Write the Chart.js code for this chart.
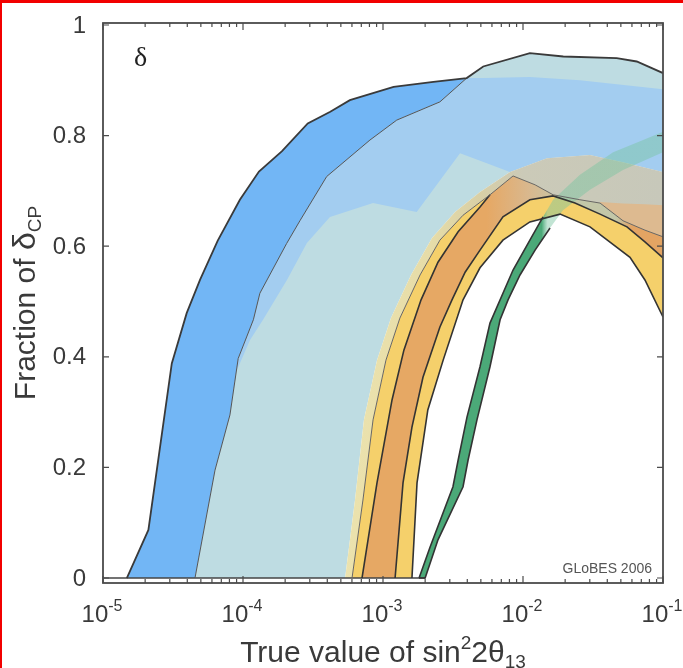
<!DOCTYPE html>
<html>
<head>
<meta charset="utf-8">
<title>Fraction of δCP</title>
<script src="https://cdn.jsdelivr.net/npm/chart.js@4.4.0/dist/chart.umd.min.js"></script>
<style>
    html, body { margin: 0; padding: 0; background: #fff; }
    #wrap { position: relative; width: 683px; height: 668px; overflow: hidden; }
    #myChart { position: absolute; left: 0; top: 0; }
    .edge { position: absolute; background: #f20000; }
</style>
</head>
<body>
<div id="wrap">
    <canvas id="myChart" width="683" height="668"></canvas>
    <div class="edge" style="left:0;top:0;width:683px;height:3px"></div>
    <div class="edge" style="left:0;top:0;width:2px;height:668px"></div>
</div>
<script>
'use strict';

// x = true value of sin^2 2theta13, y = fraction of deltaCP

// blue band, outer edge (continues as the top line)
var blueOuterX = [1.48e-5, 2.11e-5, 3.10e-5, 3.96e-5, 4.93e-5, 6.6e-5, 9.5e-5, 1.3e-4, 1.9e-4, 2.9e-4, 4.2e-4, 5.8e-4, 1.19e-3, 2.29e-3, 3.96e-3, 5.2e-3, 1.12e-2, 1.94e-2, 4.67e-2, 6.49e-2, 0.1];
var blueOuterY = [0, 0.087, 0.388, 0.479, 0.539, 0.61, 0.684, 0.735, 0.772, 0.822, 0.843, 0.864, 0.888, 0.897, 0.904, 0.925, 0.949, 0.943, 0.940, 0.934, 0.913];
// blue band, inner edge
var blueInnerX = [1.48e-5, 4.54e-5, 6.31e-5, 8.07e-5, 9.24e-5, 1.186e-4, 1.32e-4, 2.05e-4, 2.55e-4, 3.96e-4, 8.07e-4, 1.253e-3, 2.55e-3, 3.96e-3];
var blueInnerY = [0, 0, 0.195, 0.295, 0.397, 0.467, 0.515, 0.605, 0.646, 0.726, 0.792, 0.828, 0.861, 0.904];

// medium blue region
var midTopX = [9.05e-5, 9.24e-5, 1.186e-4, 1.32e-4, 2.05e-4, 2.55e-4, 3.96e-4, 8.07e-4, 1.253e-3, 2.55e-3, 3.96e-3, 5.2e-3, 1.12e-2, 2.55e-2, 0.1];
var midTopY = [0.376, 0.397, 0.467, 0.515, 0.605, 0.646, 0.726, 0.792, 0.828, 0.861, 0.904, 0.904, 0.906, 0.90, 0.884];
var midLowX = [9.05e-5, 1.12e-4, 1.39e-4, 2.06e-4, 2.86e-4, 4.18e-4, 8.49e-4, 1.74e-3, 3.55e-3, 5.51e-3, 8.07e-3, 1.48e-2, 3.01e-2, 5.18e-2, 0.1];
var midLowY = [0.376, 0.430, 0.467, 0.539, 0.606, 0.653, 0.678, 0.662, 0.768, 0.750, 0.734, 0.759, 0.765, 0.752, 0.734];

// pale band, outer edge
var paleX = [5.36e-4, 6.31e-4, 7.31e-4, 9.06e-4, 1.14e-3, 1.585e-3, 2.24e-3, 3.27e-3, 4.93e-3, 8.07e-3, 1.48e-2, 3.01e-2, 5.18e-2, 0.1];
var paleY = [0, 0.141, 0.286, 0.394, 0.470, 0.548, 0.615, 0.662, 0.698, 0.734, 0.759, 0.765, 0.752, 0.734];

// thin line (yellow band outer edge)
var thinX = [6.01e-4, 7.19e-4, 8.49e-4, 1.05e-3, 1.32e-3, 1.84e-3, 2.55e-3, 3.73e-3, 5.81e-3, 8.49e-3, 1.22e-2, 1.64e-2, 2.55e-2, 3.55e-2, 5.18e-2, 7.43e-2, 0.1];
var thinY = [0, 0.141, 0.286, 0.394, 0.470, 0.548, 0.611, 0.656, 0.693, 0.727, 0.711, 0.693, 0.684, 0.678, 0.646, 0.629, 0.617];

// orange band upper edge (lower part)
var ridgeX = [7.08e-4, 9.06e-4, 1.16e-3, 1.41e-3, 1.87e-3, 2.47e-3, 3.44e-3, 4.93e-3, 5.81e-3];
var ridgeY = [0, 0.172, 0.322, 0.412, 0.503, 0.571, 0.626, 0.671, 0.693];

// yellow band, upper and lower thick lines
var yellowUpX = [1.22e-3, 1.39e-3, 1.61e-3, 1.93e-3, 2.55e-3, 3.11e-3, 3.86e-3, 4.93e-3, 7.19e-3, 1.12e-2, 1.64e-2, 2.35e-2, 3.55e-2, 5.53e-2, 7.43e-2, 0.1];
var yellowUpY = [0, 0.172, 0.273, 0.363, 0.454, 0.503, 0.553, 0.593, 0.653, 0.684, 0.691, 0.678, 0.658, 0.635, 0.608, 0.579];
var yellowLoX = [1.61e-3, 1.75e-3, 2.09e-3, 2.69e-3, 3.73e-3, 4.93e-3, 7.19e-3, 1.12e-2, 1.84e-2, 3.01e-2, 5.81e-2, 7.43e-2, 0.1];
var yellowLoY = [0, 0.172, 0.304, 0.394, 0.503, 0.561, 0.611, 0.644, 0.658, 0.635, 0.580, 0.539, 0.472];

// tan strip at the right edge
var tanX = [3.55e-2, 5.18e-2, 7.43e-2, 0.1];
var tanY = [0.680, 0.677, 0.676, 0.674];

// green band
var greenUpX = [1.81e-3, 2.17e-3, 3.16e-3, 3.44e-3, 3.98e-3, 4.93e-3, 5.81e-3, 8.49e-3, 1.12e-2, 1.39e-2, 1.64e-2, 2.55e-2, 4.40e-2, 6.86e-2, 0.1];
var greenUpY = [0, 0.056, 0.165, 0.213, 0.291, 0.382, 0.461, 0.557, 0.611, 0.653, 0.684, 0.729, 0.770, 0.790, 0.807];
var greenLoX = [1.81e-3, 2.0e-3, 2.47e-3, 3.73e-3, 4.05e-3, 4.69e-3, 5.81e-3, 6.86e-3, 7.82e-3, 9.52e-3, 1.22e-2, 1.56e-2, 1.93e-2, 3.01e-2, 5.18e-2, 0.1];
var greenLoY = [0, 0, 0.069, 0.165, 0.213, 0.286, 0.382, 0.467, 0.503, 0.548, 0.593, 0.633, 0.665, 0.702, 0.738, 0.770];

var baseX = [1e-5, 2.0e-3];
var baseY = [0, 0];

var yTicks = [0, 0.2, 0.4, 0.6, 0.8, 1];
var yTickLabels = ['0', '0.2', '0.4', '0.6', '0.8', '1'];
var xDecades = [1e-5, 1e-4, 1e-3, 1e-2, 1e-1];
var xDecadeExps = ['-5', '-4', '-3', '-2', '-1'];

function pts(xs, ys) {
    var out = [];
    for (var i = 0; i < xs.length; i++) {
        out.push({x: xs[i], y: ys[i]});
    }
    return out;
}

function area(data, color, order) {
    return {data: data, fill: '+1', backgroundColor: color, borderColor: 'transparent', borderWidth: 0, pointRadius: 0, order: order};
}

function edge(data) {
    return {data: data, fill: false, borderColor: 'transparent', borderWidth: 0, pointRadius: 0, order: 20};
}

function stroke(data, color, width) {
    return {data: data, fill: false, borderColor: color, borderWidth: width, pointRadius: 0, order: 0};
}

// horizontal gradient, stops given in x values
function xGradient(stops) {
    return function (c) {
        var chart = c.chart;
        if (!chart.chartArea) return stops[0][1];
        var sx = chart.scales.x;
        var x0 = chart.chartArea.left, x1 = chart.chartArea.right;
        var g = chart.ctx.createLinearGradient(x0, 0, x1, 0);
        stops.forEach(function (s) {
            var p = (sx.getPixelForValue(s[0]) - x0) / (x1 - x0);
            g.addColorStop(Math.min(1, Math.max(0, p)), s[1]);
        });
        return g;
    };
}

var envelope = pts(blueInnerX.slice(1).concat(blueOuterX.slice(15)), blueInnerY.slice(1).concat(blueOuterY.slice(15)));
var cyanLow = pts([4.54e-5].concat(paleX), [0].concat(paleY));
var orangeTop = pts(ridgeX.concat(thinX.slice(9)), ridgeY.concat(thinY.slice(9)));

var paleColor = xGradient([[5e-4, '#ece3ae'], [2.2e-3, '#e6dca8'], [5e-3, '#d8cfa6'], [1e-2, '#cbcab8'], [0.1, '#c7c8ba']]);
var orangeColor = xGradient([[7e-4, '#e6a864'], [5.5e-3, '#e6a864'], [1.1e-2, '#d9b88e'], [2.0e-2, '#c3c7a8'], [4.6e-2, '#c3c7a8'], [6.0e-2, '#e3a463'], [0.1, '#e3a463']]);
var greenColor = xGradient([[1e-3, '#4ba978'], [1.36e-2, '#4ba978'], [1.5e-2, 'rgba(120,196,160,0.45)'], [0.1, 'rgba(120,196,160,0.45)']]);

var datasets = [
    area(envelope, '#bedce2', 10), edge(cyanLow),
    area(pts(midTopX, midTopY), '#a3cdf0', 9), edge(pts(midLowX, midLowY)),
    area(pts(blueOuterX.slice(0, 15), blueOuterY.slice(0, 15)), '#72b6f5', 8), edge(pts(blueInnerX, blueInnerY)),
    area(pts(paleX, paleY), paleColor, 7), edge(pts([5.36e-4].concat(thinX), [0].concat(thinY))),
    area(pts(tanX, tanY), '#ddba90', 6), edge(pts(thinX.slice(13), thinY.slice(13))),
    area(pts(thinX, thinY), '#f5d06b', 5), edge(pts([6.01e-4].concat(yellowLoX), [0].concat(yellowLoY))),
    area(orangeTop, orangeColor, 4), edge(pts([7.08e-4].concat(yellowUpX), [0].concat(yellowUpY))),
    area(pts(greenUpX, greenUpY), greenColor, 3), edge(pts(greenLoX, greenLoY)),

    stroke(pts(blueOuterX, blueOuterY), '#3a3a3a', 1.8),
    stroke(pts(blueInnerX.slice(1), blueInnerY.slice(1)), '#555', 1),
    stroke(pts(thinX, thinY), '#666', 1),
    stroke(pts(ridgeX, ridgeY), '#333', 1.6),
    stroke(pts(yellowUpX, yellowUpY), '#333', 1.6),
    stroke(pts(yellowLoX, yellowLoY), '#333', 1.6),
    stroke(pts(greenUpX.slice(0, 10), greenUpY.slice(0, 10)), '#333', 1.6),
    stroke(pts(greenLoX.slice(0, 12), greenLoY.slice(0, 12)), '#333', 1.6),
    stroke(pts(baseX, baseY), '#444', 1.5)
];

var sansFont = '"Liberation Sans", Arial, sans-serif';

// text runs: [text, size, baseline shift]
function drawRuns(c, runs, cx, y) {
    var total = 0;
    runs.forEach(function (r) {
        c.font = r[1] + 'px ' + sansFont;
        r.w = c.measureText(r[0]).width;
        total += r.w;
    });
    var x = cx - total / 2;
    c.textAlign = 'left';
    c.textBaseline = 'alphabetic';
    runs.forEach(function (r) {
        c.font = r[1] + 'px ' + sansFont;
        c.fillText(r[0], x, y + r[2]);
        x += r.w;
    });
}

var axisBox = {
    id: 'axisBox',
    afterDraw: function (chart) {
        var c = chart.ctx, a = chart.chartArea;
        var sx = chart.scales.x, sy = chart.scales.y;
        c.save();

        c.strokeStyle = '#4b4b4b';
        c.lineWidth = 1.8;
        c.strokeRect(a.left, a.top, a.right - a.left, a.bottom - a.top);

        // inward ticks
        c.lineWidth = 1.2;
        c.beginPath();
        for (var d = 0; d < xDecades.length; d++) {
            for (var k = 1; k < 10; k++) {
                var v = xDecades[d] * k;
                if (v > 0.1001) break;
                var px = sx.getPixelForValue(v);
                var len = k === 1 ? 7 : 4;
                c.moveTo(px, a.bottom); c.lineTo(px, a.bottom - len);
                c.moveTo(px, a.top); c.lineTo(px, a.top + len);
            }
        }
        yTicks.forEach(function (t) {
            var py = sy.getPixelForValue(t);
            c.moveTo(a.left, py); c.lineTo(a.left + 6, py);
            c.moveTo(a.right, py); c.lineTo(a.right - 6, py);
        });
        c.stroke();

        c.fillStyle = '#3a3a3a';

        // y tick labels
        c.font = '24px ' + sansFont;
        c.textAlign = 'right';
        c.textBaseline = 'middle';
        yTicks.forEach(function (t, i) {
            c.fillText(yTickLabels[i], a.left - 17, sy.getPixelForValue(t) + 1);
        });

        // x tick labels
        xDecades.forEach(function (v, i) {
            drawRuns(c, [['10', 24, 0], [xDecadeExps[i], 16, -11]], sx.getPixelForValue(v) - 1, 622);
        });

        // axis titles
        drawRuns(c, [['True value of sin', 30, 0], ['2', 19, -13], ['2θ', 30, 0], ['13', 19, 6]], (a.left + a.right) / 2, 662);

        c.save();
        c.translate(35, (a.top + a.bottom) / 2);
        c.rotate(-Math.PI / 2);
        drawRuns(c, [['Fraction of ', 30, 0], ['δ', 32, 0], ['CP', 19, 6]], 0, 0);
        c.restore();

        c.font = '28px "Liberation Serif", serif';
        c.textAlign = 'left';
        c.fillStyle = '#222';
        c.fillText('δ', 134, 66);

        c.font = '14px ' + sansFont;
        c.textAlign = 'right';
        c.fillStyle = '#555';
        c.fillText('GLoBES 2006', 652, 573);

        c.restore();
    }
};

var ctx = document.getElementById('myChart').getContext('2d');

var chart = new Chart(ctx, {
    type: 'line',
    data: {datasets: datasets},
    options: {
        responsive: false,
        animation: false,
        devicePixelRatio: 1,
        layout: {padding: {left: 103, right: 20, top: 23, bottom: 85}},
        plugins: {legend: {display: false}, tooltip: {enabled: false}},
        scales: {
            x: {type: 'logarithmic', min: 1e-5, max: 0.1, display: false},
            y: {type: 'linear', min: -0.009, max: 1.0036, display: false}
        }
    },
    plugins: [axisBox]
});
</script>
</body>
</html>
